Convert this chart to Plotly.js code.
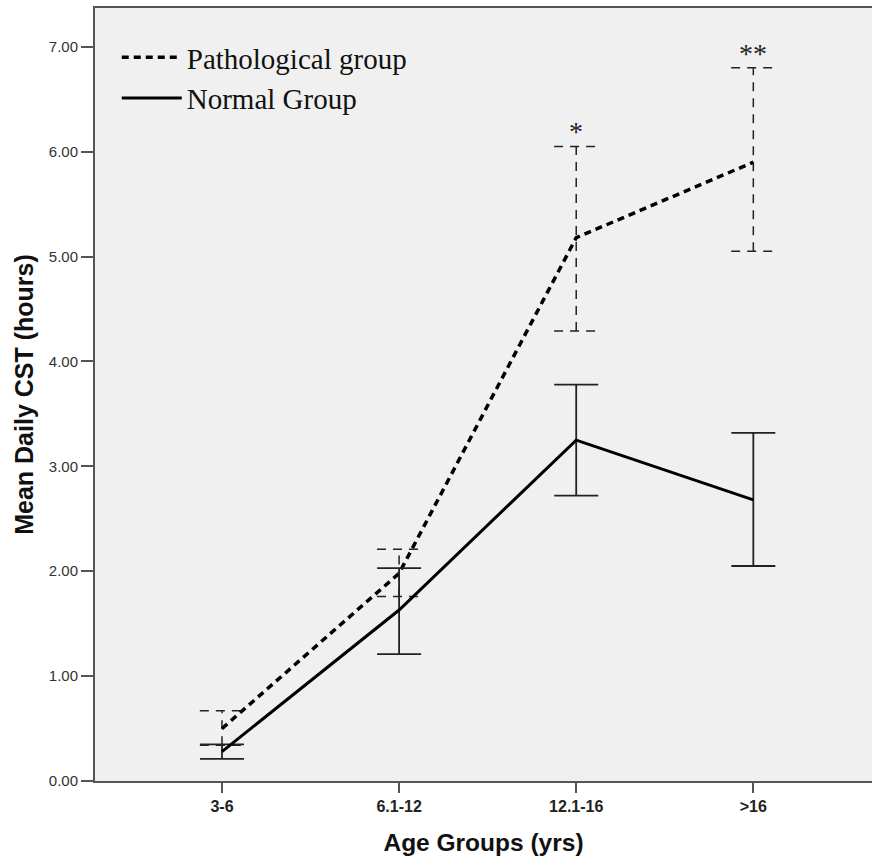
<!DOCTYPE html>
<html><head><meta charset="utf-8">
<script src="https://cdn.plot.ly/plotly-3.0.1.min.js"></script>
<style>body{margin:0;padding:0;background:#fff}#chart{width:872px;height:859px}</style>
</head><body><div id="chart"></div>
<script>
const categories = ["3-6", "6.1-12", "12.1-16", ">16"];
const pathMean  = [0.50, 1.98, 5.18, 5.90];
const pathUpper = [0.67, 2.21, 6.05, 6.80];
const pathLower = [0.34, 1.76, 4.29, 5.05];
const normMean  = [0.28, 1.63, 3.25, 2.68];
const normUpper = [0.35, 2.03, 3.78, 3.32];
const normLower = [0.21, 1.21, 2.72, 2.05];
const yTicks = [0, 1, 2, 3, 4, 5, 6, 7];
const sigMarks = ["", "", "*", "**"];

const xs = categories.map((c, i) => i);
const cap = 0.125;

// dashed error bars for pathological group
const ebx = [], eby = [];
xs.forEach((x, i) => {
  ebx.push(x, x, null, x - cap, x + cap, null, x - cap, x + cap, null);
  eby.push(pathLower[i], pathUpper[i], null, pathUpper[i], pathUpper[i], null, pathLower[i], pathLower[i], null);
});

const traces = [
  {x: ebx, y: eby, mode: 'lines', line: {color: '#222', width: 1.5, dash: '9px,7px'},
   showlegend: false, hoverinfo: 'skip'},
  {x: xs, y: pathMean, name: 'Pathological group', mode: 'lines',
   line: {color: '#000', width: 3.5, dash: '7px,5px'}},
  {x: xs, y: normMean, name: 'Normal Group', mode: 'lines',
   line: {color: '#000', width: 3},
   error_y: {type: 'data', symmetric: false,
     array: normUpper.map((u, i) => u - normMean[i]),
     arrayminus: normMean.map((m, i) => m - normLower[i]),
     color: '#222', thickness: 1.8, width: 22}}
];

const annotations = sigMarks.map((s, i) => ({
  x: xs[i], y: pathUpper[i], text: s, showarrow: false, yanchor: 'bottom', yshift: -3,
  font: {family: 'Liberation Serif, serif', size: 28, color: '#222'}
})).filter(a => a.text);

const layout = {
  width: 872, height: 859,
  margin: {l: 95, r: 0, t: 8, b: 78},
  paper_bgcolor: '#fff', plot_bgcolor: '#f0f0f0',
  showlegend: true,
  legend: {x: 0.028, y: 0.969, xanchor: 'left', yanchor: 'top', bgcolor: 'rgba(0,0,0,0)',
    itemwidth: 60,
    font: {family: 'Liberation Serif, serif', size: 29, color: '#111'}, tracegroupgap: 0},
  xaxis: {range: [-0.717, 3.67], tickvals: xs, ticktext: categories,
    showgrid: false, zeroline: false, showline: true, linecolor: '#555', linewidth: 2, mirror: true,
    ticks: 'outside', ticklen: 10, tickwidth: 2, tickcolor: '#555',
    tickfont: {family: 'Arial, Liberation Sans, sans-serif', size: 16, color: '#222', weight: 'bold'},
    title: {text: 'Age Groups (yrs)', standoff: 20,
      font: {family: 'Arial, Liberation Sans, sans-serif', size: 24.5, color: '#111', weight: 'bold'}}},
  yaxis: {range: [0, 7.37], tickvals: yTicks, ticktext: yTicks.map(v => v.toFixed(2)),
    showgrid: false, zeroline: false, showline: true, linecolor: '#555', linewidth: 2,
    ticks: 'outside', ticklen: 12, tickwidth: 2, tickcolor: '#555',
    tickfont: {family: 'Arial, Liberation Sans, sans-serif', size: 15, color: '#333'},
    title: {text: 'Mean Daily CST (hours)', standoff: 8,
      font: {family: 'Arial, Liberation Sans, sans-serif', size: 25, color: '#111', weight: 'bold'}}},
  annotations: annotations
};
Plotly.newPlot('chart', traces, layout, {displayModeBar: false, staticPlot: true});
</script></body></html>
